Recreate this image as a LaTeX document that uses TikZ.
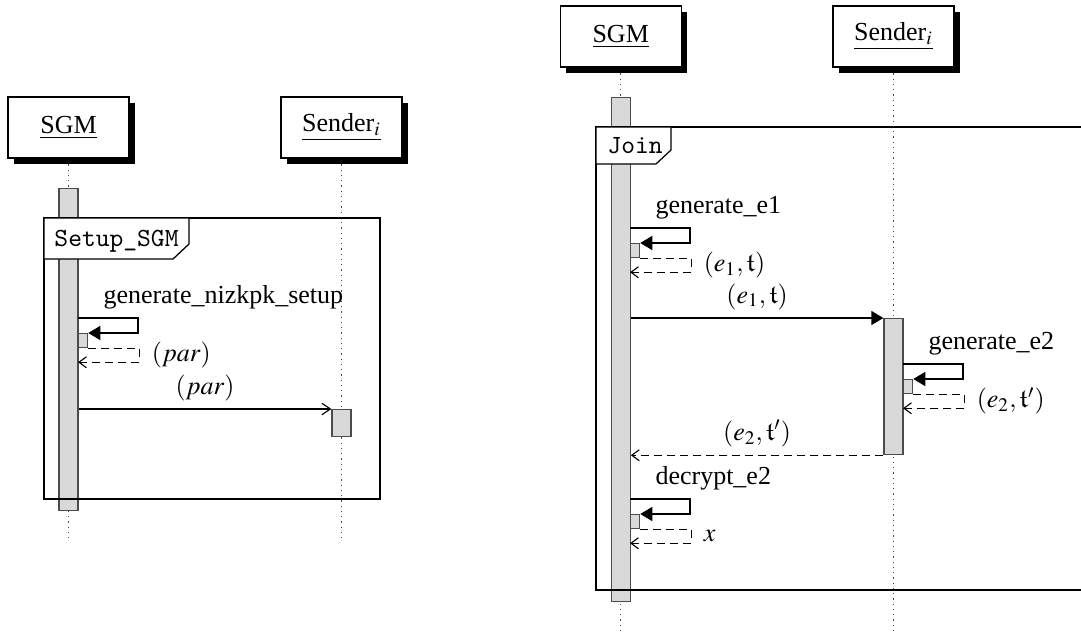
\documentclass[tikz,border=0pt]{standalone}
\usepackage{mathptmx}
\usepackage{amsfonts}
\usepackage[no-math]{fontspec}
\setmainfont{Liberation Serif}
\usetikzlibrary{arrows.meta,shadows,calc}

\begin{document}
\begin{tikzpicture}[x=0.4pt,y=-0.4pt,
  font=\fontsize{10.4}{12.5}\selectfont,
  header/.style={draw, fill=white, line width=0.5pt, inner sep=0pt,
    minimum width=48.4pt, minimum height=24.4pt,
    drop shadow={shadow xshift=2.4pt, shadow yshift=-2.4pt, fill=black, opacity=1}},
  lifeline/.style={draw=black!70, line width=0.5pt, dash pattern=on 0.5pt off 1.6pt},
  actbar/.style={draw=black!70, fill=black!15, line width=0.5pt, inner sep=0pt, minimum width=7.6pt},
  subbar/.style={actbar, minimum width=3.6pt, minimum height=5.6pt, anchor=north west},
  framebox/.style={draw, line width=0.5pt},
  framelabel/.style={draw, fill=white, line width=0.5pt},
  frametext/.style={anchor=base west, inner sep=0pt, font=\fontsize{10.5}{12.5}\ttfamily},
  call/.style={line width=0.5pt, -{Triangle[length=4.8pt,width=5.6pt]}},
  openmsg/.style={line width=0.45pt, -{Straight Barb[length=3.4pt,width=4.6pt]}},
  reply/.style={line width=0.45pt, dash pattern=on 3.2pt off 2pt, -{Straight Barb[length=3pt,width=4.4pt]}},
  lbl/.style={inner sep=0pt}
]
\useasboundingbox[fill=white] (0,0) rectangle (1081,634);
\clip (0,0) rectangle (1081,634);

% ---------------- Setup_SGM ----------------
\coordinate (lsgmtop) at (68.5,127.5);
\coordinate (lsndtop) at (341.5,127.5);
\coordinate (lsgmbot) at (68.5,542);
\coordinate (lsndbot) at (341.5,542);
\draw[lifeline] (lsgmtop) -- (lsgmbot);
\draw[lifeline] (lsndtop) -- (lsndbot);
\node[header] (lsgm) at (lsgmtop) {\underline{SGM}};
\node[header] (lsnd) at (lsndtop) {\underline{Sender$_i$}};

\node[actbar, anchor=north, minimum height=128.8pt] (lbar) at (68.5,188) {};
\node[actbar, anchor=north, minimum height=10.8pt] (lsbar) at (341.5,409) {};

\draw[framebox] (44,218) rectangle (380,499);
\draw[framelabel] (44,218) -- (189,218) -- (189,244) -- (173,259) -- (44,259) -- cycle;
\node[frametext] (lsetup) at (54,246) {Setup\_SGM};

% self call: generate_nizkpk_setup
\node[subbar] (lc1) at (78,333) {};
\draw[call] ($(lc1.north west)+(0,-15)$) -- ++(60,0) -- ++(0,15) -- (lc1.north east);
\draw[reply] (lc1.south east) -- ++(51,0) -- ++(0,14) -- ($(lc1.south west)+(0,14)$);
\node[lbl, anchor=base west] (lgen) at ($(lc1.north west)+(25,-30)$) {generate\_nizkpk\_setup};
\node[lbl, anchor=west] (lpar1) at ($(lc1.south east)+(63,7)$) {$(par)$};

% message to sender
\draw[openmsg] (lbar.east |- lsbar.north) -- node[lbl, midway, anchor=base, yshift=6pt] (lpar2) {$(par)$} (lsbar.north west);

% ---------------- Join ----------------
\coordinate (rsgmtop) at (620.7,36.5);
\coordinate (rsndtop) at (893.5,36.5);
\coordinate (rsgmbot) at (620.7,630);
\coordinate (rsndbot) at (893.5,630);
\draw[lifeline] (rsgmtop) -- (rsgmbot);
\draw[lifeline] (rsndtop) -- (rsndbot);
\node[header] (rsgm) at (rsgmtop) {\underline{SGM}};
\node[header] (rsnd) at (rsndtop) {\underline{Sender$_i$}};

\node[actbar, anchor=north, minimum height=201.6pt] (rbar) at (620.7,97) {};
\node[actbar, anchor=north, minimum height=54.4pt] (rsbar) at (893.5,318) {};

\draw[framebox] (1120,127) -- (596,127) -- (596,590) -- (1120,590);
\draw[framelabel] (596,127) -- (671,127) -- (671,150) -- (656,164) -- (596,164) -- cycle;
\node[frametext] (rjoin) at (607,153) {Join};

% self call: generate_e1
\node[subbar] (rc1) at (630,243) {};
\draw[call] ($(rc1.north west)+(0,-15)$) -- ++(60,0) -- ++(0,15) -- (rc1.north east);
\draw[reply] (rc1.south east) -- ++(51,0) -- ++(0,14) -- ($(rc1.south west)+(0,14)$);
\node[lbl, anchor=base west] (rgen1) at ($(rc1.north west)+(25,-30)$) {generate\_e1};
\node[lbl, anchor=west] (rret1) at ($(rc1.south east)+(63,7)$) {$(e_1,\mathfrak{t})$};

% message (e1, t)
\draw[call] (rbar.east |- rsbar.north) -- node[lbl, midway, anchor=base, yshift=6pt] (rm1) {$(e_1,\mathfrak{t})$} (rsbar.north west);

% self call: generate_e2
\node[subbar] (rc2) at (903,379) {};
\draw[call] ($(rc2.north west)+(0,-15)$) -- ++(60,0) -- ++(0,15) -- (rc2.north east);
\draw[reply] (rc2.south east) -- ++(51,0) -- ++(0,14) -- ($(rc2.south west)+(0,14)$);
\node[lbl, anchor=base west] (rgen2) at ($(rc2.north west)+(25,-30)$) {generate\_e2};
\node[lbl, anchor=west] (rret2) at ($(rc2.south east)+(63,7)$) {$(e_2,\mathfrak{t}')$};

% reply (e2, t')
\draw[reply] (rsbar.south west) -- node[lbl, midway, anchor=base, yshift=6pt] (rm2) {$(e_2,\mathfrak{t}')$} (rbar.east |- rsbar.south);

% self call: decrypt_e2
\node[subbar] (rc3) at (630,514) {};
\draw[call] ($(rc3.north west)+(0,-15)$) -- ++(60,0) -- ++(0,15) -- (rc3.north east);
\draw[reply] (rc3.south east) -- ++(51,0) -- ++(0,14) -- ($(rc3.south west)+(0,14)$);
\node[lbl, anchor=base west] (rdec) at ($(rc3.north west)+(25,-30)$) {decrypt\_e2};
\node[lbl, anchor=west] (rret3) at ($(rc3.south east)+(63,7)$) {$x$};
\end{tikzpicture}
\end{document}
